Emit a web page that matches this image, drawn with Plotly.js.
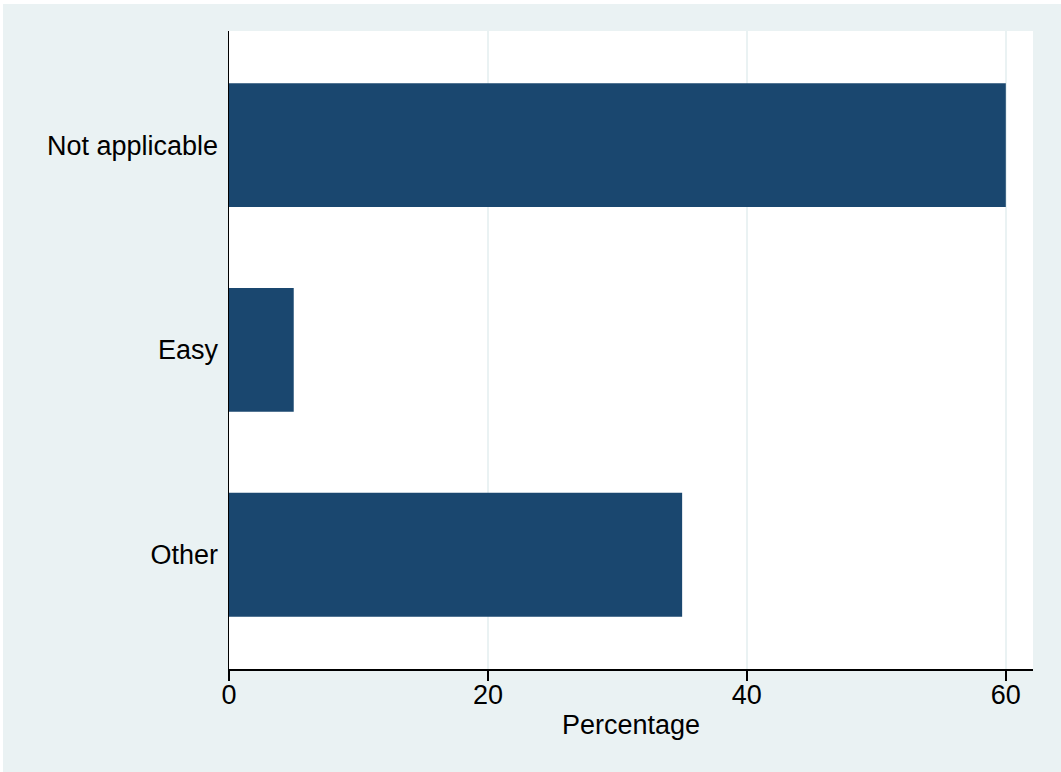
<!DOCTYPE html>
<html>
<head>
<meta charset="utf-8">
<script src="https://cdn.plot.ly/plotly-3.0.1.min.js"></script>
<style>
  html, body { margin: 0; padding: 0; background: #ffffff; }
  #chart { position: absolute; left: 3px; top: 4px; width: 1058px; height: 768px; }
</style>
</head>
<body>
<div id="chart"></div>
<script>
const categories = ["Not applicable", "Easy", "Other"];
const percentages = [60, 5, 35];
const xTickValues = [0, 20, 40, 60];
const xTitle = "Percentage";

const trace = {
  type: "bar",
  orientation: "h",
  y: categories,
  x: percentages,
  width: 0.605,
  marker: { color: "#1A476F", line: { width: 0 } },
  hoverinfo: "none"
};

const layout = {
  width: 1058,
  height: 768,
  paper_bgcolor: "#EAF2F3",
  plot_bgcolor: "#FFFFFF",
  margin: { l: 226, r: 28, t: 27, b: 103, pad: 0 },
  showlegend: false,
  font: { family: "Liberation Sans, Arial, sans-serif", size: 27, color: "#000000" },
  xaxis: {
    range: [0, 62.1],
    tickvals: xTickValues,
    ticktext: xTickValues.map(String),
    ticks: "outside",
    ticklen: 10,
    tickwidth: 1.5,
    tickcolor: "#000000",
    ticklabelstandoff: -9,
    showline: true,
    linecolor: "#000000",
    linewidth: 1.5,
    showgrid: true,
    gridcolor: "#EAF2F3",
    gridwidth: 2,
    zeroline: false,
    tickfont: { size: 27, color: "#000000" },
    title: { text: xTitle, font: { size: 27, color: "#000000" }, standoff: 6 },
    fixedrange: true
  },
  yaxis: {
    type: "category",
    categoryorder: "array",
    categoryarray: categories,
    range: [2.558, -0.557],
    ticks: "",
    showline: true,
    linecolor: "#000000",
    linewidth: 1.5,
    showgrid: false,
    zeroline: false,
    ticklabelstandoff: 4,
    tickfont: { size: 27, color: "#000000" },
    fixedrange: true
  }
};

Plotly.newPlot("chart", [trace], layout, { displayModeBar: false, staticPlot: true });
</script>
</body>
</html>
